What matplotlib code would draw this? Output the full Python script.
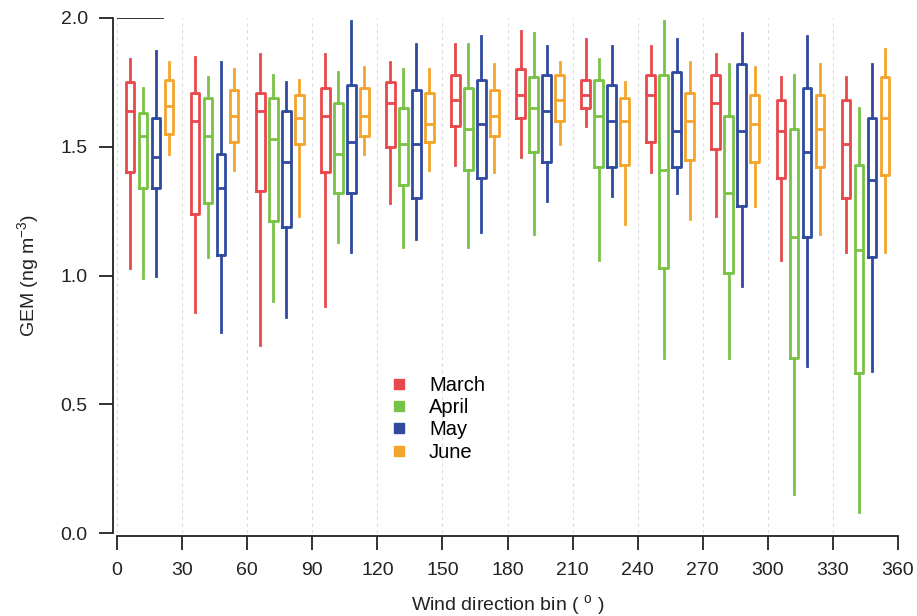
import numpy as np
import matplotlib
matplotlib.use("Agg")
import matplotlib.pyplot as plt
from matplotlib.lines import Line2D

#%% data, one value per 30 degree wind bin
bins = [0, 30, 60, 90, 120, 150, 180, 210, 240, 270, 300, 330]
months = ["March", "April", "May", "June"]
colors = ["#E8474B", "#78C245", "#2F4A9F", "#F3A52B"]

mar_hi = [1.84, 1.85, 1.86, 1.86, 1.83, 1.90, 1.95, 1.92, 1.89, 1.86, 1.77, 1.77]
mar_q3 = [1.75, 1.71, 1.71, 1.73, 1.75, 1.78, 1.80, 1.76, 1.78, 1.78, 1.68, 1.68]
mar_med = [1.64, 1.60, 1.64, 1.62, 1.67, 1.68, 1.70, 1.70, 1.70, 1.67, 1.56, 1.51]
mar_q1 = [1.40, 1.24, 1.33, 1.40, 1.50, 1.58, 1.61, 1.65, 1.52, 1.49, 1.38, 1.30]
mar_lo = [1.03, 0.86, 0.73, 0.88, 1.28, 1.43, 1.46, 1.58, 1.40, 1.23, 1.06, 1.09]

apr_hi = [1.73, 1.77, 1.78, 1.79, 1.80, 1.90, 1.94, 1.84, 1.99, 1.82, 1.78, 1.65]
apr_q3 = [1.63, 1.69, 1.69, 1.67, 1.65, 1.73, 1.77, 1.76, 1.78, 1.62, 1.57, 1.43]
apr_med = [1.54, 1.54, 1.53, 1.47, 1.51, 1.57, 1.65, 1.62, 1.41, 1.32, 1.15, 1.10]
apr_q1 = [1.34, 1.28, 1.21, 1.32, 1.35, 1.41, 1.48, 1.42, 1.03, 1.01, 0.68, 0.62]
apr_lo = [0.99, 1.07, 0.90, 1.13, 1.11, 1.11, 1.16, 1.06, 0.68, 0.68, 0.15, 0.08]

may_hi = [1.87, 1.83, 1.75, 1.99, 1.90, 1.93, 1.89, 1.89, 1.92, 1.94, 1.93, 1.82]
may_q3 = [1.61, 1.47, 1.64, 1.74, 1.72, 1.76, 1.78, 1.74, 1.79, 1.82, 1.73, 1.61]
may_med = [1.46, 1.34, 1.44, 1.52, 1.51, 1.59, 1.64, 1.60, 1.56, 1.56, 1.48, 1.37]
may_q1 = [1.34, 1.08, 1.19, 1.32, 1.30, 1.38, 1.44, 1.42, 1.42, 1.27, 1.15, 1.07]
may_lo = [1.00, 0.78, 0.84, 1.09, 1.14, 1.17, 1.29, 1.31, 1.32, 0.96, 0.65, 0.63]

jun_hi = [1.83, 1.80, 1.76, 1.81, 1.80, 1.82, 1.83, 1.75, 1.83, 1.81, 1.82, 1.88]
jun_q3 = [1.76, 1.72, 1.70, 1.73, 1.71, 1.72, 1.78, 1.69, 1.71, 1.70, 1.70, 1.77]
jun_med = [1.66, 1.62, 1.61, 1.62, 1.59, 1.62, 1.68, 1.60, 1.60, 1.59, 1.57, 1.61]
jun_q1 = [1.55, 1.52, 1.51, 1.54, 1.52, 1.54, 1.60, 1.43, 1.45, 1.44, 1.42, 1.39]
jun_lo = [1.47, 1.41, 1.23, 1.47, 1.41, 1.40, 1.51, 1.20, 1.22, 1.27, 1.16, 1.09]

stats = [
    (mar_lo, mar_q1, mar_med, mar_q3, mar_hi),
    (apr_lo, apr_q1, apr_med, apr_q3, apr_hi),
    (may_lo, may_q1, may_med, may_q3, may_hi),
    (jun_lo, jun_q1, jun_med, jun_q3, jun_hi),
]

#%% plot
plt.rcParams["font.family"] = ["Liberation Sans", "DejaVu Sans"]
plt.rcParams["mathtext.default"] = "regular"

fig = plt.figure(figsize=(9.17, 6.16), dpi=100)
ax = fig.add_axes([0.1276, 0.1347, 0.8517, 0.8361])

lw = 2.0
for k, (lo, q1, med, q3, hi) in enumerate(stats):
    boxes = [dict(whislo=lo[i], q1=q1[i], med=med[i], q3=q3[i], whishi=hi[i])
             for i in range(len(bins))]
    pos = np.array(bins) + 6 * (k + 1)
    c = colors[k]
    ax.bxp(boxes, positions=pos, widths=4.0, showfliers=False, showcaps=False,
           manage_ticks=False,
           boxprops=dict(color=c, linewidth=lw),
           whiskerprops=dict(color=c, linewidth=lw),
           medianprops=dict(color=c, linewidth=lw))

ax.set_xlim(0, 360)
ax.set_ylim(0, 2.0)
ax.set_xticks(np.arange(0, 361, 30))
ax.set_yticks([0.0, 0.5, 1.0, 1.5, 2.0])
ax.set_yticklabels(["0.0", "0.5", "1.0", "1.5", "2.0"])
ax.xaxis.grid(True, linestyle=(0, (3, 3)), color="#dcdcdc", linewidth=0.8)
ax.set_axisbelow(True)

ax.axhline(2.0, xmin=0, xmax=0.059, color="#222222", linewidth=1.3)

for s in ["top", "right"]:
    ax.spines[s].set_visible(False)
ax.spines["left"].set_position(("outward", 3))
ax.spines["bottom"].set_position(("outward", 2))
for s in ["left", "bottom"]:
    ax.spines[s].set_linewidth(1.3)
    ax.spines[s].set_color("#222222")
ax.tick_params(direction="out", length=10, width=1.3, color="#222222",
               labelsize=14, labelcolor="#222222")
ax.tick_params(axis="x", pad=9)
ax.tick_params(axis="y", pad=8)

ax.set_xlabel("Wind direction bin ( $^{o}$ )", fontsize=14, color="#222222", labelpad=10)
ax.set_ylabel("GEM (ng m$^{-3}$)", fontsize=14, color="#222222", labelpad=14)

handles = [Line2D([], [], marker="s", linestyle="none", color=c, markersize=7)
           for c in colors]
ax.legend(handles, months, loc="center", bbox_to_anchor=(0.403, 0.222),
          frameon=False, fontsize=14.5, handletextpad=0.5, labelspacing=0.17)

plt.savefig("out.png", dpi=100)
